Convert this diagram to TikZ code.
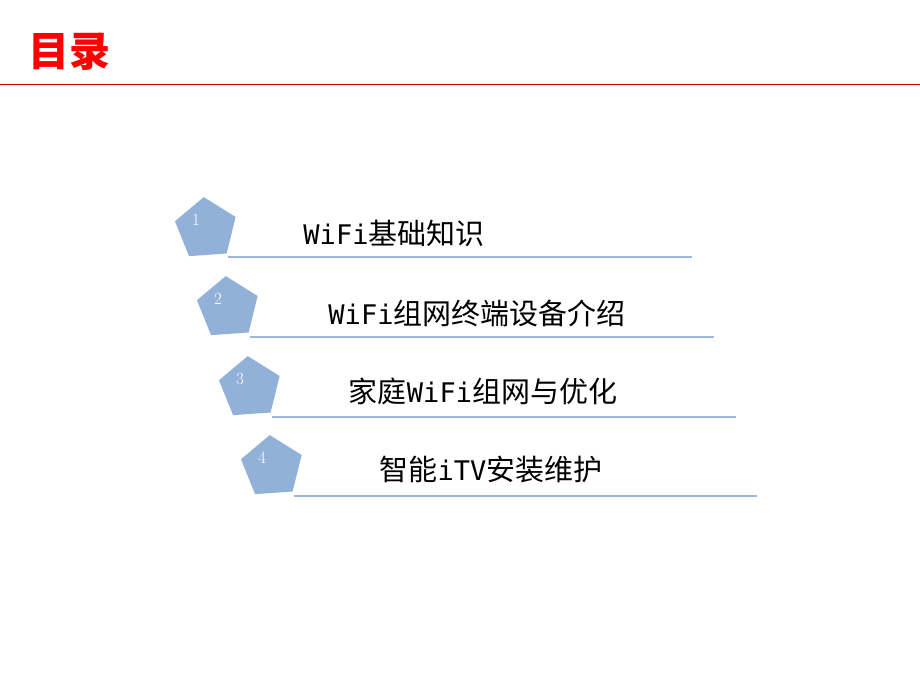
\documentclass[tikz,border=0pt]{standalone}
\usepackage{fontspec}
\newfontfamily\cjk{Noto Sans CJK SC}
\newfontfamily\lat{DejaVu Sans Mono}
\usetikzlibrary{shapes.geometric}
\definecolor{penta}{HTML}{92B1D8}
\definecolor{rule}{HTML}{9DB8DC}
\tikzset{
  pent/.style={regular polygon, regular polygon sides=5, fill=penta, minimum size=64pt, inner sep=0pt, rotate=4},
  num/.style={text=white, font=\fontsize{17}{17}\selectfont},
  item/.style={font=\cjk\fontsize{29}{29}\selectfont}
}
\newcommand{\wl}[1]{{\lat\fontsize{27}{27}\selectfont #1}}
\begin{document}
\begin{tikzpicture}[x=1pt,y=-1pt]
  \useasboundingbox (0,0) rectangle (920,690);
  \node[font=\cjk\bfseries\fontsize{41}{41}\selectfont, text=red] (title) at (69,52) {目录};
  \coordinate (rl) at (0,84);
  \coordinate (rr) at (920,84);
  \draw[red!80!black, line width=0.8pt] (rl) -- (rr);

  \node[pent] (p1) at (206,229) {};
  \node[num] (n1) at (196,220) {1};
  \node[item] (t1) at (394,233) {\wl{WiFi}基础知识};
  \coordinate (a1) at (228,257); \coordinate (b1) at (692,257);
  \draw[rule, line width=1.2pt] (a1) -- (b1);

  \node[pent] (p2) at (228,308) {};
  \node[num] (n2) at (218,299) {2};
  \node[item] (t2) at (477,313) {\wl{WiFi}组网终端设备介绍};
  \coordinate (a2) at (250,337); \coordinate (b2) at (714,337);
  \draw[rule, line width=1.2pt] (a2) -- (b2);

  \node[pent] (p3) at (250,388) {};
  \node[num] (n3) at (240,379) {3};
  \node[item] (t3) at (483,391) {家庭\wl{WiFi}组网与优化};
  \coordinate (a3) at (272,417); \coordinate (b3) at (736,417);
  \draw[rule, line width=1.2pt] (a3) -- (b3);

  \node[pent] (p4) at (272,467) {};
  \node[num] (n4) at (262,458) {4};
  \node[item] (t4) at (491,470) {智能\wl{iTV}安装维护};
  \coordinate (a4) at (294,496); \coordinate (b4) at (757,496);
  \draw[rule, line width=1.2pt] (a4) -- (b4);
\end{tikzpicture}
\end{document}
